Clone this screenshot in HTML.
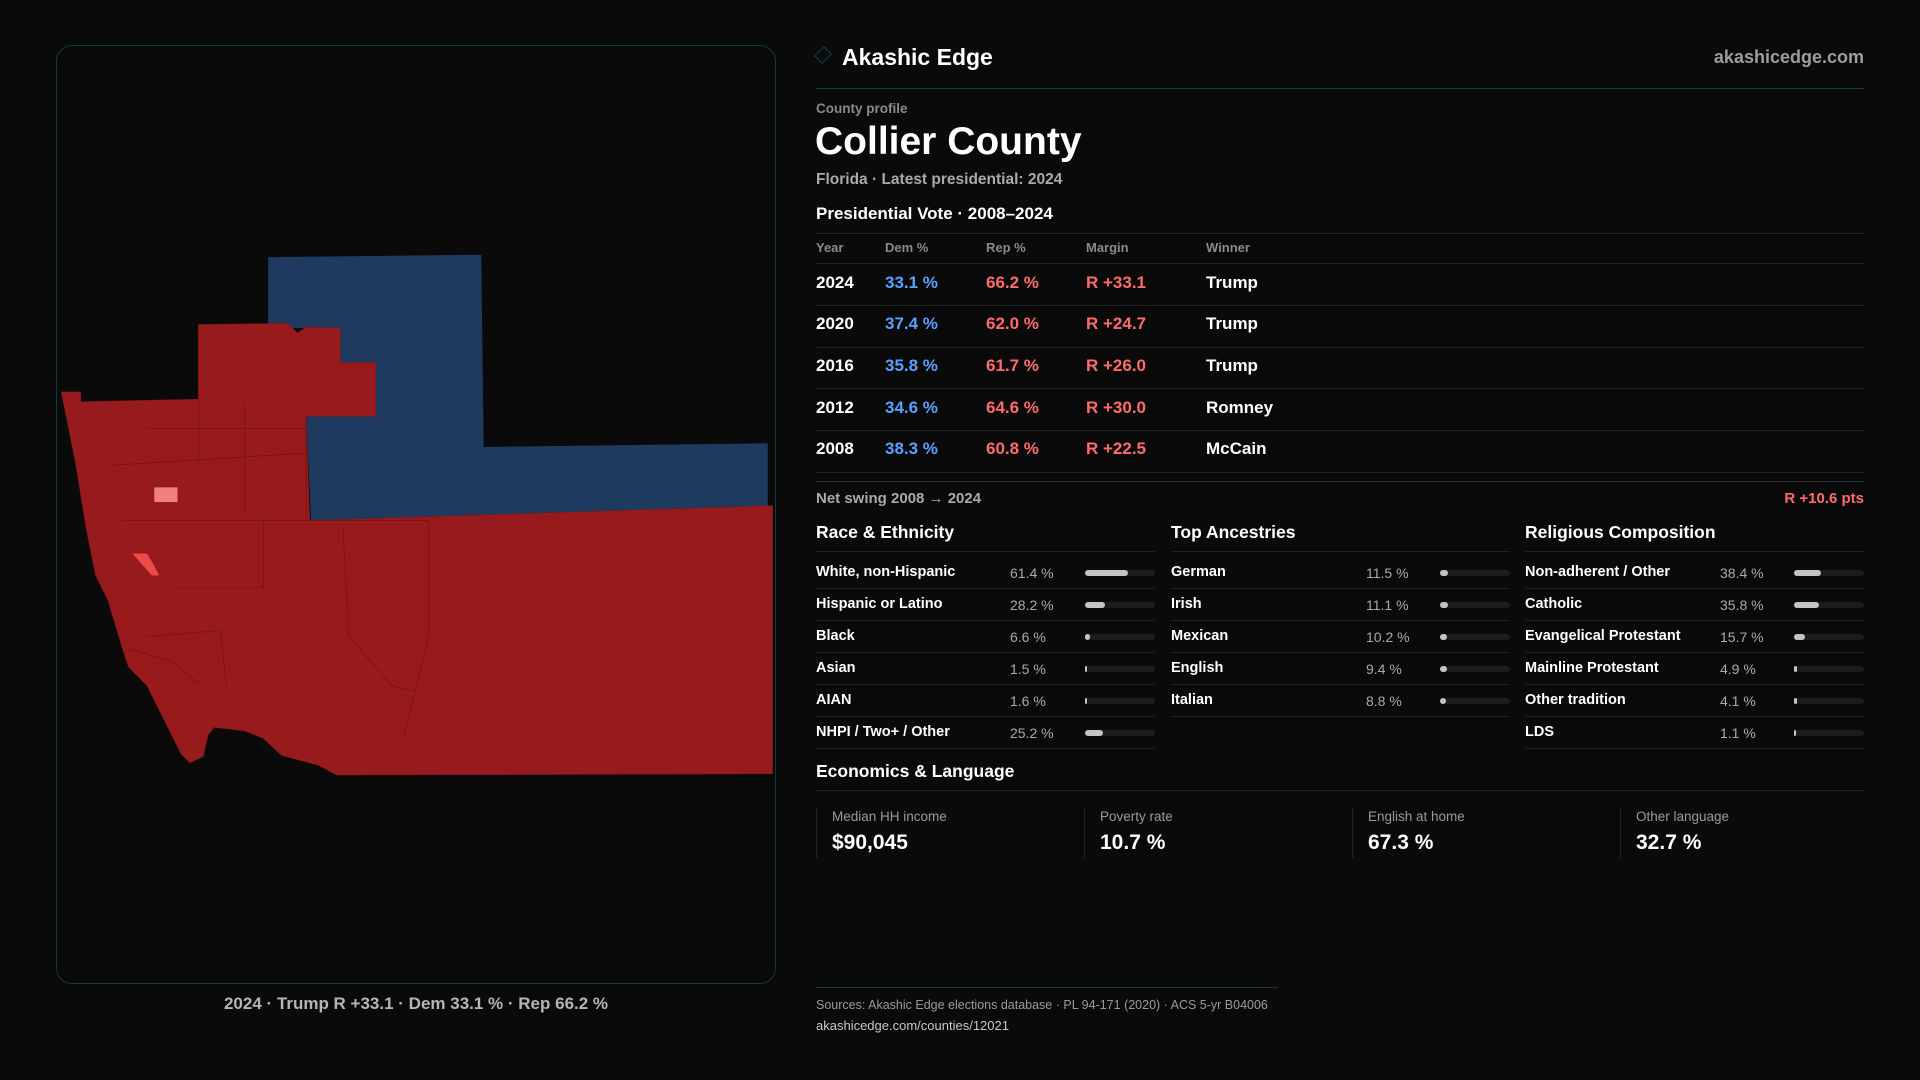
<!DOCTYPE html>
<html><head><meta charset="utf-8"><style>
*{margin:0;padding:0;box-sizing:border-box}
body{width:1920px;height:1080px;background:#0a0a0b;font-family:"Liberation Sans",sans-serif;color:#fff;position:relative;overflow:hidden}
.a{position:absolute;white-space:nowrap}
.panel{position:absolute;left:56px;top:45px;width:720px;height:939px;border:1px solid #123a40;border-radius:16px;background:#0a0a0b}
.hl{position:absolute;height:1px;background:#222}
.g{color:#9a9a9a}
.row{font-size:17px;font-weight:bold}
.dem{color:#5aa0ff}.rep{color:#ff6b6b}
.lab{font-size:14.5px;font-weight:bold}
.val{font-size:14px;color:#aaa}
.trk{position:absolute;height:6px;width:70px;background:#1c1c1e;border-radius:3px}
.fil{height:6px;background:#c4c4c4;border-radius:3px}
.card{position:absolute;top:808px;height:50px;border-left:1px solid #222;padding-left:15px}
.card .l{font-size:13.5px;color:#9a9a9a;margin-top:1px}
.card .v{font-size:21px;font-weight:bold;margin-top:7px}
</style></head><body>
<div class="panel"></div>
<svg class="a" style="left:0;top:0" width="1920" height="1080" viewBox="0 0 1568 882">
<polygon fill="#1f3a5f" points="219,210 393,208 395,365 627,362 627,415 254,425 250,340 278,340 278,268 219,268"/>
<polygon fill="#971a1d" stroke="#7a1416" stroke-width="0.4" points="50,320 66,320 66,328 162,326 162,265 235,264 243,272 250,267 278,268 278,296 307,296 307,340 250,340 253,425 627,413 631,413 631,632 275,633 260,625 245,621 230,617 215,603 200,597 175,594 170,600 166,618 155,623 148,616 120,560 105,545 100,530 88,490 78,470 70,430 62,380"/>
<g fill="none" stroke="#6e1214" stroke-width="0.5">
<path d="M250,340 L250,425 M162,326 L162,380 M200,330 L200,420 M120,350 L250,350 M90,380 L250,370 M100,425 L350,425 M350,425 L350,520 L330,600 M280,430 L285,520 L320,560 L340,565 M140,480 L215,480 L215,425 M120,520 L180,515 L185,560 M105,530 L140,540 L165,560"/>
</g>
<rect x="126" y="398" width="19" height="12" fill="#f08080"/>
<polygon fill="#ee4a4a" points="108,452 120,452 126,462 130,470 124,470"/>
</svg>
<div class="a" style="left:56px;width:720px;text-align:center;top:994px;font-size:17px;font-weight:bold;color:#b5b5b5">2024 · Trump R +33.1 · Dem 33.1 % · Rep 66.2 %</div>

<div class="a" style="left:816px;top:48px;width:14px;height:14px;border:1.5px solid #0f4a55;transform:rotate(45deg) scale(.8,1)"></div>
<div class="a" style="left:842px;top:44px;font-size:23px;font-weight:bold">Akashic Edge</div>
<div class="a g" style="right:56px;top:47px;font-size:18px;font-weight:bold;color:#9d9d9d">akashicedge.com</div>
<div class="hl" style="left:816px;width:1048px;top:88px;background:#0f3a44"></div>
<div class="a g" style="left:816px;top:101px;font-size:13.5px;font-weight:bold;color:#8a8a8a">County profile</div>
<div class="a" style="left:815px;top:120px;font-size:39px;font-weight:bold">Collier County</div>
<div class="a" style="left:816px;top:171px;font-size:15.5px;font-weight:bold;color:#aaa">Florida · Latest presidential: 2024</div>
<div class="a" style="left:816px;top:204px;font-size:17px;font-weight:bold">Presidential Vote · 2008–2024</div>
<div class="hl" style="left:816px;width:1048px;top:233px"></div>
<div class="a g" style="left:816px;top:240px;font-size:13px;font-weight:bold;color:#8a8a8a">Year</div>
<div class="a g" style="left:885px;top:240px;font-size:13px;font-weight:bold;color:#8a8a8a">Dem %</div>
<div class="a g" style="left:986px;top:240px;font-size:13px;font-weight:bold;color:#8a8a8a">Rep %</div>
<div class="a g" style="left:1086px;top:240px;font-size:13px;font-weight:bold;color:#8a8a8a">Margin</div>
<div class="a g" style="left:1206px;top:240px;font-size:13px;font-weight:bold;color:#8a8a8a">Winner</div>
<div class="hl" style="left:816px;width:1048px;top:263px"></div>

<div class="a row" style="left:816px;top:273px">2024</div><div class="a row dem" style="left:885px;top:273px">33.1 %</div><div class="a row rep" style="left:986px;top:273px">66.2 %</div><div class="a row rep" style="left:1086px;top:273px">R +33.1</div><div class="a row" style="left:1206px;top:273px">Trump</div>
<div class="hl" style="left:816px;width:1048px;top:305px"></div>
<div class="a row" style="left:816px;top:314px">2020</div><div class="a row dem" style="left:885px;top:314px">37.4 %</div><div class="a row rep" style="left:986px;top:314px">62.0 %</div><div class="a row rep" style="left:1086px;top:314px">R +24.7</div><div class="a row" style="left:1206px;top:314px">Trump</div>
<div class="hl" style="left:816px;width:1048px;top:347px"></div>
<div class="a row" style="left:816px;top:356px">2016</div><div class="a row dem" style="left:885px;top:356px">35.8 %</div><div class="a row rep" style="left:986px;top:356px">61.7 %</div><div class="a row rep" style="left:1086px;top:356px">R +26.0</div><div class="a row" style="left:1206px;top:356px">Trump</div>
<div class="hl" style="left:816px;width:1048px;top:388px"></div>
<div class="a row" style="left:816px;top:398px">2012</div><div class="a row dem" style="left:885px;top:398px">34.6 %</div><div class="a row rep" style="left:986px;top:398px">64.6 %</div><div class="a row rep" style="left:1086px;top:398px">R +30.0</div><div class="a row" style="left:1206px;top:398px">Romney</div>
<div class="hl" style="left:816px;width:1048px;top:430px"></div>
<div class="a row" style="left:816px;top:439px">2008</div><div class="a row dem" style="left:885px;top:439px">38.3 %</div><div class="a row rep" style="left:986px;top:439px">60.8 %</div><div class="a row rep" style="left:1086px;top:439px">R +22.5</div><div class="a row" style="left:1206px;top:439px">McCain</div>
<div class="hl" style="left:816px;width:1048px;top:472px"></div>
<div class="hl" style="left:816px;width:1048px;top:481px;background:#2a2a2a"></div>
<div class="a" style="left:816px;top:490px;font-size:15px;font-weight:bold;color:#aaa">Net swing 2008 → 2024</div>
<div class="a" style="right:56px;top:490px;font-size:15px;font-weight:bold;color:#ff6b6b">R +10.6 pts</div>

<div class="a" style="left:816px;top:522px;font-size:17.5px;font-weight:bold">Race &amp; Ethnicity</div>
<div class="a" style="left:1171px;top:522px;font-size:17.5px;font-weight:bold">Top Ancestries</div>
<div class="a" style="left:1525px;top:522px;font-size:17.5px;font-weight:bold">Religious Composition</div>
<div class="hl" style="left:816px;width:339px;top:551px"></div>
<div class="hl" style="left:1171px;width:339px;top:551px"></div>
<div class="hl" style="left:1525px;width:339px;top:551px"></div>
<div id="rows"></div>
<script>
var cols=[[816,1010,1085,[["White, non-Hispanic","61.4 %",61.4],["Hispanic or Latino","28.2 %",28.2],["Black","6.6 %",6.6],["Asian","1.5 %",1.5],["AIAN","1.6 %",1.6],["NHPI / Two+ / Other","25.2 %",25.2]]],
[1171,1366,1440,[["German","11.5 %",11.5],["Irish","11.1 %",11.1],["Mexican","10.2 %",10.2],["English","9.4 %",9.4],["Italian","8.8 %",8.8]]],
[1525,1720,1794,[["Non-adherent / Other","38.4 %",38.4],["Catholic","35.8 %",35.8],["Evangelical Protestant","15.7 %",15.7],["Mainline Protestant","4.9 %",4.9],["Other tradition","4.1 %",4.1],["LDS","1.1 %",1.1]]]];
var h="";cols.forEach(function(c){c[3].forEach(function(r,i){var y=564+i*32;var w=Math.max(2,r[2]*0.7);
h+='<div class="a lab" style="left:'+c[0]+'px;top:'+y+'px">'+r[0]+'</div><div class="a val" style="left:'+c[1]+'px;top:'+(y+1)+'px">'+r[1]+'</div><div class="trk" style="left:'+c[2]+'px;top:'+(y+6)+'px"><div class="fil" style="width:'+w+'px"></div></div><div class="hl" style="left:'+c[0]+'px;width:339px;top:'+(y+24)+'px"></div>';});});
document.getElementById("rows").innerHTML=h;
</script>
<div class="a" style="left:816px;top:761px;font-size:17.5px;font-weight:bold">Economics &amp; Language</div>
<div class="hl" style="left:816px;width:1048px;top:790px"></div>
<div class="card" style="left:816px"><div class="l">Median HH income</div><div class="v">$90,045</div></div>
<div class="card" style="left:1084px"><div class="l">Poverty rate</div><div class="v">10.7 %</div></div>
<div class="card" style="left:1352px"><div class="l">English at home</div><div class="v">67.3 %</div></div>
<div class="card" style="left:1620px"><div class="l">Other language</div><div class="v">32.7 %</div></div>
<div class="hl" style="left:816px;width:462px;top:987px;background:#0f3a44"></div>
<div class="a" style="left:816px;top:998px;font-size:12.5px;color:#9a9a9a">Sources: Akashic Edge elections database · PL 94-171 (2020) · ACS 5-yr B04006</div>
<div class="a" style="left:816px;top:1018px;font-size:13px;color:#c8c8c8">akashicedge.com/counties/12021</div>
</body></html>
